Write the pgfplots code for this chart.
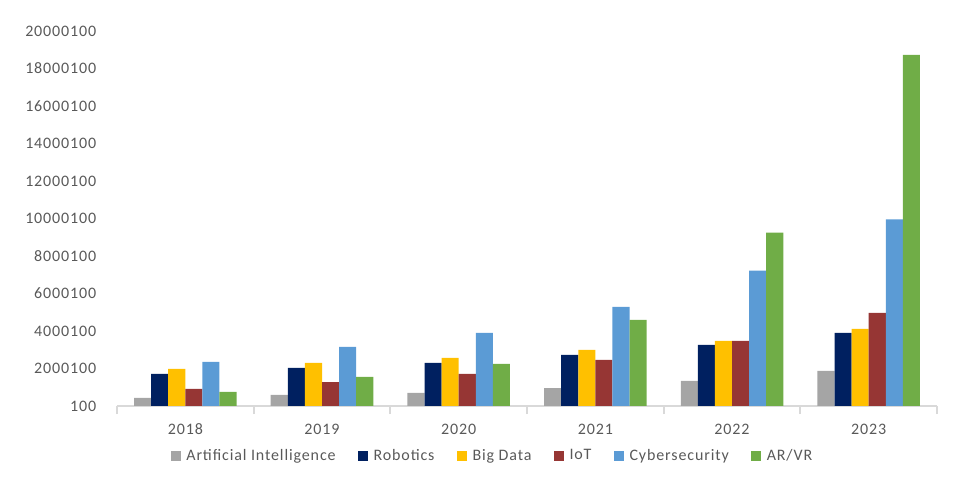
\documentclass[border=0pt]{standalone}
\usepackage{pgfplots}
\pgfplotsset{compat=1.18}
\usepackage{fontspec}
\setmainfont{Carlito}[LetterSpace=5.5]

\definecolor{aigray}{HTML}{A5A5A5}
\definecolor{robnavy}{HTML}{002060}
\definecolor{bdyellow}{HTML}{FFC000}
\definecolor{iotred}{HTML}{963634}
\definecolor{cyblue}{HTML}{5B9BD5}
\definecolor{argreen}{HTML}{70AD47}
\definecolor{txtgray}{HTML}{595959}
\definecolor{axgray}{HTML}{D9D9D9}

\begin{document}
\begin{tikzpicture}
\useasboundingbox (0,0) rectangle (726pt,366.75pt);
\begin{axis}[
  at={(87.75pt,62.25pt)}, anchor=south west,
  scale only axis,
  width=615pt, height=281.25pt,
  ybar=0pt, bar width=0.125,
  xmin=-0.5, xmax=5.5,
  ymin=100, ymax=20000100,
  xtick={-0.5,0.5,1.5,2.5,3.5,4.5,5.5},
  x tick label as interval=true,
  xticklabels={2018,2019,2020,2021,2022,2023},
  major x tick style={draw=axgray, line width=1.3pt},
  major tick length=6pt,
  tick align=outside,
  ytick={100,2000100,4000100,6000100,8000100,10000100,12000100,14000100,16000100,18000100,20000100},
  yticklabels={100,2000100,4000100,6000100,8000100,10000100,12000100,14000100,16000100,18000100,20000100},
  scaled y ticks=false,
  major y tick style={draw=none},
  axis x line*=bottom,
  axis y line*=left,
  y axis line style={draw=none},
  x axis line style={draw=axgray, line width=1.3pt, -},
  ticklabel style={font=\fontsize{12}{14}\selectfont, text=txtgray},
  /pgf/number format/assume math mode=true,
  yticklabel style={xshift=-6pt},
  xticklabel style={yshift=-4pt},
  clip=false,
  legend columns=6,
  legend style={draw=none, fill=none, at={(0.4585,-0.1)}, anchor=north,
    font=\fontsize{12}{14}\selectfont, text=txtgray,
    /tikz/every odd column/.append style={column sep=2pt},
    /tikz/every even column/.append style={column sep=15pt}},
  legend image code/.code={\fill[#1] (0pt,-3.75pt) rectangle (7.5pt,3.75pt);},
]
\addplot[fill=aigray, draw=none] coordinates {(0,430000) (1,590000) (2,700000) (3,960000) (4,1340000) (5,1870000)};
\addplot[fill=robnavy, draw=none] coordinates {(0,1710000) (1,2030000) (2,2300000) (3,2730000) (4,3260000) (5,3900000)};
\addplot[fill=bdyellow, draw=none] coordinates {(0,1980000) (1,2300000) (2,2570000) (3,2990000) (4,3480000) (5,4120000)};
\addplot[fill=iotred, draw=none] coordinates {(0,910000) (1,1280000) (2,1710000) (3,2460000) (4,3480000) (5,4970000)};
\addplot[fill=cyblue, draw=none] coordinates {(0,2350000) (1,3160000) (2,3900000) (3,5290000) (4,7220000) (5,9950000)};
\addplot[fill=argreen, draw=none] coordinates {(0,750000) (1,1550000) (2,2250000) (3,4600000) (4,9250000) (5,18720000)};
\legend{Artificial Intelligence, Robotics, Big Data, IoT, Cybersecurity, AR/VR}
\end{axis}
\end{tikzpicture}
\end{document}
